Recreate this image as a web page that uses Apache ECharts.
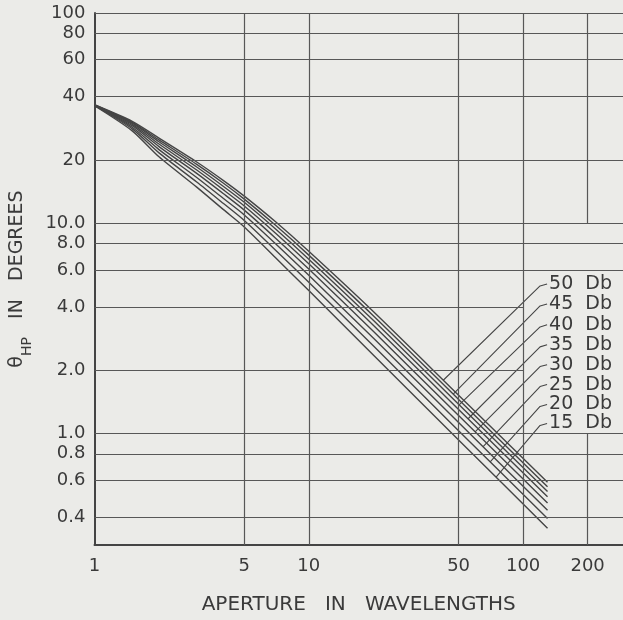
<!DOCTYPE html>
<html><head><meta charset="utf-8">
<script src="https://cdn.jsdelivr.net/npm/echarts@6/dist/echarts.min.js"></script>
<style>html,body{margin:0;padding:0;background:#ebebe8;overflow:hidden}#c{width:623px;height:620px}</style>
</head><body><div id="c"></div><script>
// ---- data ----
const apertures = [1, 1.5, 2, 3, 4, 5, 7, 10, 20, 50, 130];
const curve15 = [36.2, 27.5, 20.7, 14.85, 11.6, 9.6, 6.85, 4.78, 2.36, 0.93, 0.354];
const curve20 = [36.3, 28.1, 21.6, 15.7, 12.4, 10.3, 7.44, 5.23, 2.61, 1.03, 0.394];
const curve25 = [36.35, 28.6, 22.4, 16.5, 13.1, 10.95, 7.99, 5.65, 2.84, 1.126, 0.431];
const curve30 = [36.4, 29.1, 23.15, 17.25, 13.8, 11.54, 8.49, 6.05, 3.06, 1.216, 0.466];
const curve35 = [36.45, 29.5, 23.8, 17.9, 14.4, 12.08, 8.96, 6.41, 3.27, 1.30, 0.499];
const curve40 = [36.5, 29.9, 24.4, 18.5, 14.95, 12.57, 9.38, 6.74, 3.45, 1.376, 0.529];
const curve45 = [36.55, 30.2, 24.9, 19.05, 15.5, 13.02, 9.77, 7.05, 3.63, 1.45, 0.557];
const curve50 = [36.6, 30.5, 25.4, 19.55, 15.95, 13.45, 10.15, 7.35, 3.80, 1.52, 0.585];
const curves = [curve15, curve20, curve25, curve30, curve35, curve40, curve45, curve50];
const curveNames = ['15 Db', '20 Db', '25 Db', '30 Db', '35 Db', '40 Db', '45 Db', '50 Db'];

// leader lines: start on curve, knee, end at label
const leaderStartX = [74.8, 70.2, 65.1, 59.7, 55.4, 50.3, 47.2, 42.4];
const leaderStartY = [0.619, 0.733, 0.864, 1.018, 1.174, 1.368, 1.536, 1.79];
const labelKneeY = [1.091, 1.343, 1.67, 2.08, 2.58, 3.21, 4.04, 5.03];
const labelY = [1.115, 1.372, 1.707, 2.12, 2.64, 3.29, 4.13, 5.14];
const leaderKneeX = 120.0;
const leaderEndX = 129.4;

const xTicks = [1, 5, 10, 50, 100, 200];
const xTickLabels = ['1', '5', '10', '50', '100', '200'];
const yTicks = [0.4, 0.6, 0.8, 1, 2, 4, 6, 8, 10, 20, 40, 60, 80, 100];
const yTickLabels = ['0.4', '0.6', '0.8', '1.0', '2.0', '4.0', '6.0', '8.0', '10.0', '20', '40', '60', '80', '100'];
const hGridFull = [0.4, 0.6, 0.8, 1, 6, 8, 10, 20, 40, 60, 80, 100];
const hGridShort = [2, 4];
const vGridFull = [5, 10, 50, 100];
const vGridBroken = [200];
const xMin = 1, xMax = 292.5, yMin = 0.2945, yMax = 100;

// ---- build ----
const L = Math.log10;
const ink = '#454545';
const txt = '#3a3a3a';
const font = 'DejaVu Sans';

function nearestLabel(v, ticks, labels) {
  let best = 0, bd = 1e9;
  ticks.forEach((t, i) => { const d = Math.abs(L(t) - v); if (d < bd) { bd = d; best = i; } });
  return labels[best];
}

const gridLines = [];
hGridFull.forEach(v => gridLines.push([{ coord: [L(xMin), L(v)] }, { coord: [L(xMax), L(v)] }]));
hGridShort.forEach(v => gridLines.push([{ coord: [L(xMin), L(v)] }, { coord: [L(100), L(v)] }]));
vGridFull.forEach(v => gridLines.push([{ coord: [L(v), L(yMin)] }, { coord: [L(v), L(yMax)] }]));
vGridBroken.forEach(v => {
  gridLines.push([{ coord: [L(v), L(yMin)] }, { coord: [L(v), L(1)] }]);
  gridLines.push([{ coord: [L(v), L(10)] }, { coord: [L(v), L(yMax)] }]);
});

const series = [{
  type: 'line', data: [], silent: true,
  markLine: { silent: true, symbol: 'none', label: { show: false },
    lineStyle: { color: '#575757', width: 1.2, type: 'solid' }, data: gridLines, animation: false }
}];

curves.forEach((c, k) => {
  series.push({
    name: curveNames[k], type: 'line', smooth: 0.25, showSymbol: false, silent: true,
    lineStyle: { color: ink, width: 1.4 },
    data: apertures.map((a, i) => [L(a), L(c[i])])
  });
  series.push({
    type: 'line', showSymbol: false, silent: true,
    lineStyle: { color: ink, width: 1.1 },
    data: [[L(leaderStartX[k]), L(leaderStartY[k])], [L(leaderKneeX), L(labelKneeY[k])], [L(leaderEndX), L(labelY[k])]],
    endLabel: { show: true, formatter: curveNames[k].replace(' ', '  '), distance: 2,
      color: txt, fontFamily: font, fontSize: 19 }
  });
});

const chart = echarts.init(document.getElementById('c'), null, { renderer: 'canvas' });
chart.setOption({
  backgroundColor: '#ebebe8',
  animation: false,
  grid: { left: 94, right: 0, top: 13, bottom: 73 },
  xAxis: {
    type: 'value', min: L(xMin), max: L(xMax),
    name: 'APERTURE   IN   WAVELENGTHS', nameLocation: 'middle', nameGap: 50,
    nameTextStyle: { color: txt, fontFamily: font, fontSize: 20 },
    axisLine: { show: true, onZero: false, lineStyle: { color: '#444', width: 2 } },
    axisTick: { show: false },
    splitLine: { show: false },
    axisLabel: { customValues: xTicks.map(L), formatter: v => nearestLabel(v, xTicks, xTickLabels),
      color: txt, fontFamily: font, fontSize: 18, margin: 12 }
  },
  yAxis: {
    type: 'value', min: L(yMin), max: L(yMax),
    name: '{th|θ}{sub|HP}{n|   IN   DEGREES}', nameLocation: 'middle', nameRotate: 90, nameGap: 57,
    nameTextStyle: { color: txt, fontFamily: font, fontSize: 19,
      rich: {
        th: { fontSize: 19, fontFamily: font, color: txt, lineHeight: 34, verticalAlign: 'middle' },
        sub: { fontSize: 14, fontFamily: font, color: txt, lineHeight: 34, verticalAlign: 'bottom' },
        n: { fontSize: 19, fontFamily: font, color: txt, lineHeight: 34, verticalAlign: 'middle' }
      } },
    axisLine: { show: true, onZero: false, lineStyle: { color: '#444', width: 2 } },
    axisTick: { show: false },
    splitLine: { show: false },
    axisLabel: { customValues: yTicks.map(L), formatter: v => nearestLabel(v, yTicks, yTickLabels),
      color: txt, fontFamily: font, fontSize: 18, margin: 9 }
  },
  series: series
});
</script></body></html>
